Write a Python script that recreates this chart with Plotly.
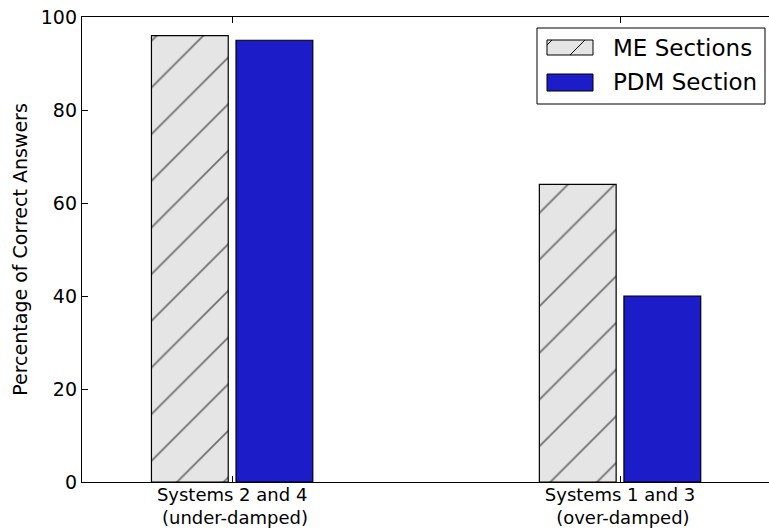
import plotly.graph_objects as go

# Data
categories = ["Systems 2 and 4<br> (under-damped)", "Systems 1 and 3<br> (over-damped)"]
me_sections = [96, 64]
pdm_section = [95, 40]
series_names = ["ME Sections", "PDM Section"]
y_ticks = [0, 20, 40, 60, 80, 100]

FONT = "DejaVu Sans"
GRAY = "#e5e5e5"
BLUE = "#1c1cc9"

fig = go.Figure()
fig.add_trace(go.Bar(
    x=categories, y=me_sections, name=series_names[0],
    marker=dict(color=GRAY, line=dict(color="black", width=1.2),
                pattern=dict(shape="/", fgcolor="black", size=33,
                             solidity=0.055, fillmode="overlay")),
    showlegend=False,
))
fig.add_trace(go.Bar(
    x=categories, y=pdm_section, name=series_names[1],
    marker=dict(color=BLUE, line=dict(color="black", width=1.2)),
    showlegend=False,
))

# Hand-drawn legend box in paper coordinates
L, R, T, B = 82, 769, 17, 482
def px(v):
    return (v - L) / (R - L)
def py(v):
    return (B - v) / (B - T)

shapes = [
    dict(type="rect", xref="paper", yref="paper",
         x0=px(537), x1=px(765), y0=py(104), y1=py(28),
         line=dict(color="black", width=1), fillcolor="white", layer="above"),
    dict(type="rect", xref="paper", yref="paper",
         x0=px(547), x1=px(593), y0=py(55), y1=py(40),
         line=dict(color="black", width=1), fillcolor=GRAY, layer="above"),
    dict(type="line", xref="paper", yref="paper",
         x0=px(570), x1=px(585), y0=py(55), y1=py(40),
         line=dict(color="black", width=1), layer="above"),
    dict(type="line", xref="paper", yref="paper",
         x0=px(547), x1=px(552), y0=py(45), y1=py(40),
         line=dict(color="black", width=1), layer="above"),
    dict(type="rect", xref="paper", yref="paper",
         x0=px(547), x1=px(593), y0=py(91), y1=py(74),
         line=dict(color="black", width=1), fillcolor=BLUE, layer="above"),
]
annotations = [
    dict(text=series_names[0], xref="paper", yref="paper", x=px(611), y=py(48),
         xanchor="left", yanchor="middle", showarrow=False,
         font=dict(family=FONT, size=23, color="black")),
    dict(text=series_names[1], xref="paper", yref="paper", x=px(611), y=py(82),
         xanchor="left", yanchor="middle", showarrow=False,
         font=dict(family=FONT, size=23, color="black")),
]

fig.update_layout(
    width=769, height=529,
    margin=dict(l=82, r=0, t=17, b=47),
    paper_bgcolor="white", plot_bgcolor="white",
    barmode="group", bargap=0.564, bargroupgap=0.092,
    font=dict(family=FONT, size=19, color="black"),
    shapes=shapes, annotations=annotations,
)
fig.update_xaxes(
    range=[-0.387, 1.384], showgrid=False, zeroline=False, automargin=False,
    showline=True, linecolor="black", linewidth=1.3, mirror="ticks",
    ticks="inside", ticklen=6, tickwidth=1, tickcolor="black",
    tickfont=dict(family=FONT, size=18), ticklabelstandoff=-4,
)
fig.update_yaxes(
    range=[0, 100], tickvals=y_ticks, showgrid=False, zeroline=False,
    showline=True, linecolor="black", linewidth=1.3, automargin=False,
    ticks="inside", ticklen=6, tickwidth=1, tickcolor="black",
    tickfont=dict(family=FONT, size=19),
    title=dict(text="Percentage of Correct Answers",
               font=dict(family=FONT, size=19), standoff=8),
)

fig.write_html("out.html")
